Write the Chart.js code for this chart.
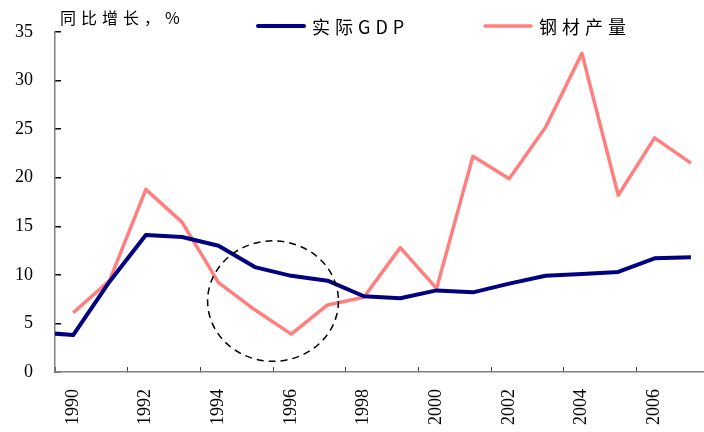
<!DOCTYPE html>
<html>
<head>
<meta charset="utf-8">
<script src="https://cdn.jsdelivr.net/npm/chart.js@4/dist/chart.umd.min.js"></script>
<style>
html,body{margin:0;padding:0;background:#fff;}
#wrap{width:704px;height:432px;position:relative;}
</style>
</head>
<body>
<div id="wrap"><canvas id="c" width="704" height="432"></canvas></div>
<script>
// ---- data ----
const years = [1989,1990,1991,1992,1993,1994,1995,1996,1997,1998,1999,2000,2001,2002,2003,2004,2005,2006,2007];
const gdpGrowth   = [4.1,3.8,9.3,14.1,13.9,13.0,10.8,9.9,9.4,7.8,7.6,8.4,8.2,9.1,9.9,10.1,10.3,11.7,11.8];
const steelGrowth = [null,6.1,9.4,18.8,15.4,9.2,6.4,3.9,6.9,7.7,12.8,8.6,22.2,19.9,25.2,32.8,18.2,24.1,21.5];
const yTickValues = [0,5,10,15,20,25,30,35];
const labelYears  = [1990,1992,1994,1996,1998,2000,2002,2004,2006];
const seriesNames = ['实际GDP','钢材产量'];
const unitLabel   = '同比增长，%';
// highlighted region (data units)
const circleCenter = {x:1995.5, y:7.3};
const circleRadius = {x:1.8, y:6.2};

// ---- styles ----
const NAVY = '#000080', PINK = '#FF7F7F';
const CJK = '"Noto Sans CJK SC", "Noto Sans", sans-serif';
const SERIF = '"Liberation Serif", "DejaVu Serif", serif';
const legendX = [258, 485];

const decorPlugin = {
  id: 'decor',
  afterDatasetsDraw(chart) {
    const ctx = chart.ctx, xs = chart.scales.x, ys = chart.scales.y;
    const cx = xs.getPixelForValue(circleCenter.x), cy = ys.getPixelForValue(circleCenter.y);
    const rx = Math.abs(xs.getPixelForValue(circleCenter.x + circleRadius.x) - cx);
    const ry = Math.abs(ys.getPixelForValue(circleCenter.y + circleRadius.y) - cy);
    ctx.save();
    ctx.beginPath();
    ctx.setLineDash([7,5]);
    ctx.lineWidth = 1.5;
    ctx.strokeStyle = '#000';
    ctx.ellipse(cx, cy, rx, ry, 0, 0, Math.PI*2);
    ctx.stroke();
    ctx.restore();
  },
  afterDraw(chart) {
    const ctx = chart.ctx;
    ctx.save();
    // unit label
    ctx.fillStyle = '#000';
    ctx.font = '16px ' + CJK;
    ctx.letterSpacing = '5px';
    ctx.textBaseline = 'middle';
    ctx.textAlign = 'left';
    ctx.fillText(unitLabel, 60, 18);
    // legend
    ctx.font = '18px ' + CJK;
    ctx.letterSpacing = '5px';
    chart.data.datasets.forEach((ds, i) => {
      const x0 = legendX[i];
      ctx.beginPath();
      ctx.setLineDash([]);
      ctx.lineWidth = ds.borderWidth;
      ctx.strokeStyle = ds.borderColor;
      ctx.lineCap = 'round';
      ctx.moveTo(x0, 26);
      ctx.lineTo(x0 + 46, 26);
      ctx.stroke();
      ctx.fillStyle = '#000';
      ctx.fillText(ds.label, x0 + 54, 27);
    });
    ctx.restore();
  }
};

new Chart(document.getElementById('c'), {
  type: 'line',
  data: {
    labels: years,
    datasets: [
      {label: seriesNames[0], data: gdpGrowth, borderColor: NAVY, borderWidth: 4,
       pointRadius: 0, tension: 0, fill: false, clip: 0, borderJoinStyle: 'round'},
      {label: seriesNames[1], data: steelGrowth, borderColor: PINK, borderWidth: 3.5,
       pointRadius: 0, tension: 0, fill: false, clip: 0, borderJoinStyle: 'round'}
    ]
  },
  options: {
    responsive: false,
    animation: false,
    devicePixelRatio: 1,
    layout: {padding: {top: 32, left: 0, right: 0, bottom: 0}},
    plugins: {legend: {display: false}, tooltip: {enabled: false}},
    scales: {
      x: {
        type: 'linear',
        min: labelYears[0] - 0.5,
        max: 2007.36,
        afterBuildTicks: s => { s.ticks = labelYears.map(y => ({value: y - 0.5})); },
        afterFit: s => { s.height = 60; s.paddingLeft = 0; s.paddingRight = 0; },
        ticks: {
          callback: v => String(v + 0.5),
          labelOffset: 18,
          minRotation: 90, maxRotation: 90,
          autoSkip: false,
          padding: 22,
          color: '#000',
          font: {family: SERIF, size: 18}
        },
        grid: {drawOnChartArea: false, tickLength: -5, color: '#444', lineWidth: 1},
        border: {color: '#808080', width: 1.5}
      },
      y: {
        min: 0, max: 35,
        afterBuildTicks: s => { s.ticks = yTickValues.map(v => ({value: v})); },
        afterFit: s => { s.width = 55; s.paddingTop = 10; s.paddingBottom = 10; },
        ticks: {padding: 28, color: '#000', font: {family: SERIF, size: 18}},
        grid: {drawOnChartArea: false, tickLength: -6, color: '#000', lineWidth: 1.5},
        border: {color: '#808080', width: 1.5}
      }
    }
  },
  plugins: [decorPlugin]
});
</script>
</body>
</html>
